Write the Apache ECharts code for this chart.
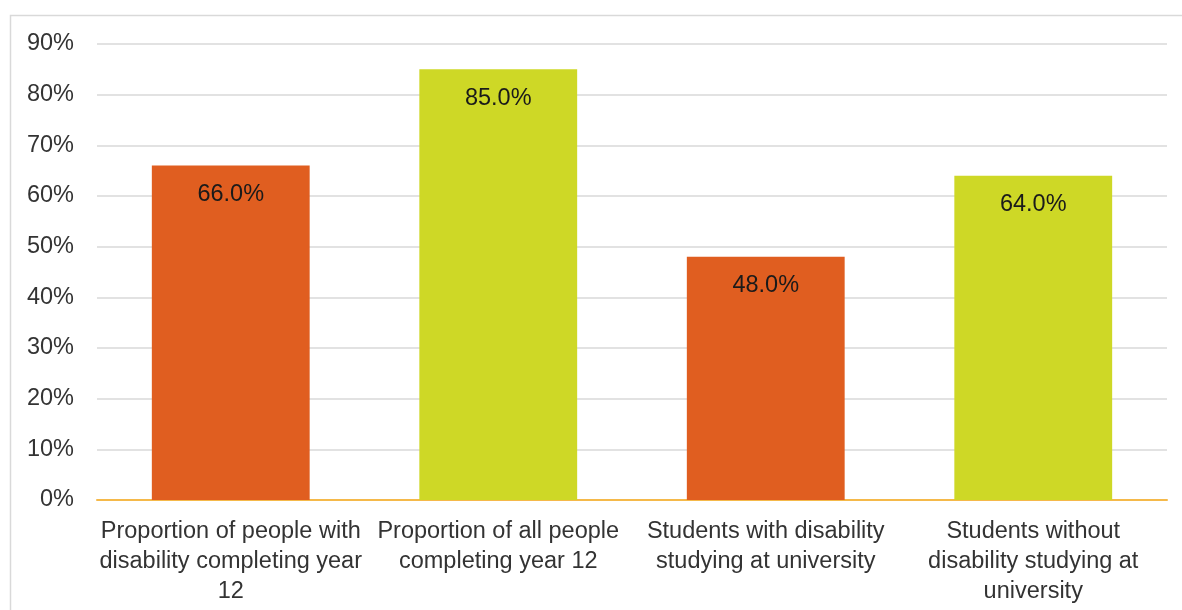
<!DOCTYPE html>
<html>
<head>
<meta charset="utf-8">
<script src="https://cdn.jsdelivr.net/npm/echarts@6/dist/echarts.min.js"></script>
<style>
	html, body { margin: 0; padding: 0; background: #fff; }
	#main { width: 1182px; height: 610px; }
</style>
</head>
<body>
<div id="main"></div>
<script>
var categories = [
	'Proportion of people with\ndisability completing year\n12',
	'Proportion of all people\ncompleting year 12',
	'Students with disability\nstudying at university',
	'Students without\ndisability studying at\nuniversity'
];
var values = [66.0, 85.0, 48.0, 64.0];
var barColors = ['#E05E20', '#CED826', '#E05E20', '#CED826'];

var myChart = echarts.init(document.getElementById('main'));

var data = [];
for (var i = 0; i < values.length; i++) {
	data.push({ value: values[i], itemStyle: { color: barColors[i] } });
}

var option = {
	animation: false,
	textStyle: { fontFamily: '"Liberation Sans", Arial, sans-serif' },
	graphic: [{
		type: 'rect',
		shape: { x: 10.5, y: 15.5, width: 1200, height: 700 },
		style: { fill: 'none', stroke: '#d9d9d9', lineWidth: 1.5 },
		silent: true
	}],
	grid: { left: 97, right: 15, top: 44, bottom: 110 },
	xAxis: {
		type: 'category',
		data: categories,
		axisLine: { lineStyle: { color: '#F5B94A', width: 2 } },
		axisTick: { show: false },
		axisLabel: {
			color: '#333333',
			fontSize: 23.5,
			lineHeight: 30,
			margin: 17,
			interval: 0
		}
	},
	yAxis: {
		type: 'value',
		min: 0,
		max: 90,
		interval: 10,
		axisLine: { show: false },
		axisTick: { show: false },
		axisLabel: {
			color: '#333333',
			fontSize: 23.5,
			margin: 23,
			formatter: '{value}%'
		},
		splitLine: { lineStyle: { color: '#d9d9d9', width: 1.5 } }
	},
	series: [{
		type: 'bar',
		data: data,
		barWidth: '59%',
		label: {
			show: true,
			position: 'insideTop',
			distance: 17,
			color: '#1a1a1a',
			fontSize: 23.5,
			formatter: function(p) { return p.value.toFixed(1) + '%'; }
		}
	}]
};
myChart.setOption(option, true);
</script>
</body>
</html>
